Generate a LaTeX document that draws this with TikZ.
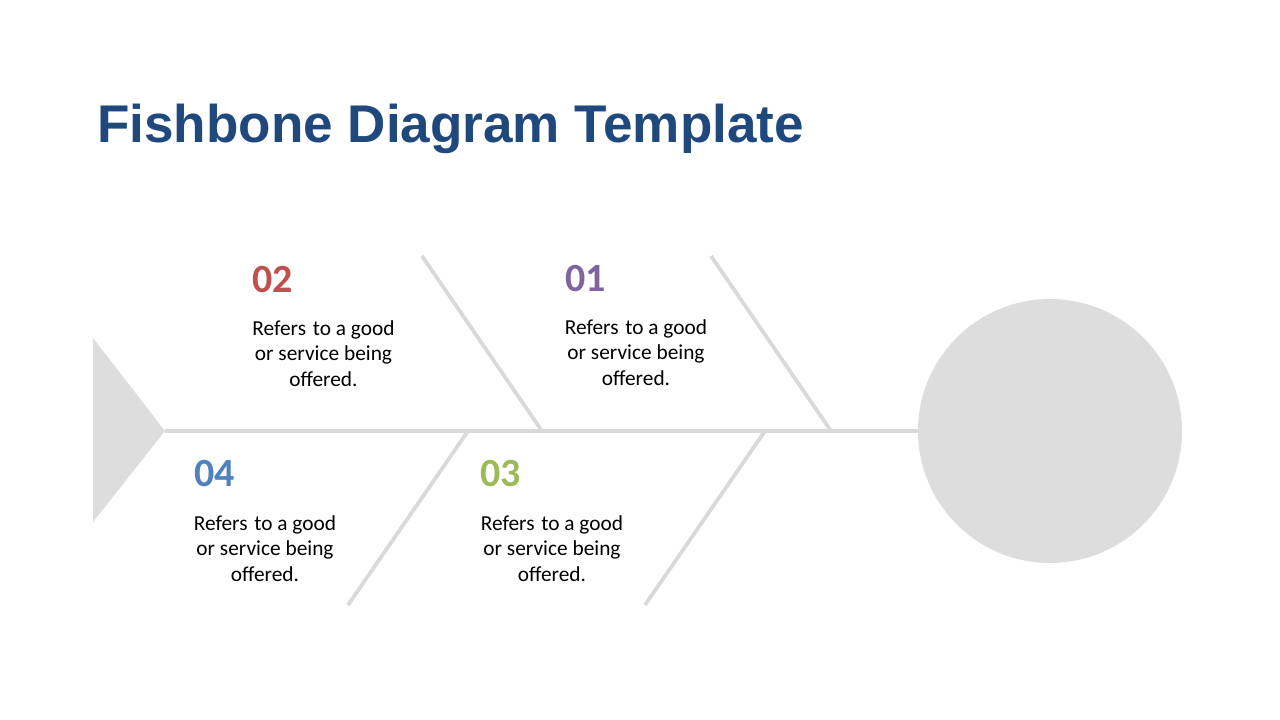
\documentclass[tikz,border=0pt]{standalone}
\usepackage{fontspec}
\setmainfont{Carlito}
\newfontfamily\titlefont{Liberation Sans}
\definecolor{titleblue}{RGB}{31,73,125}
\definecolor{bonegray}{RGB}{217,217,217}
\definecolor{headgray}{RGB}{221,221,221}
\definecolor{numred}{RGB}{192,80,77}
\definecolor{numpurple}{RGB}{128,100,162}
\definecolor{numblue}{RGB}{79,129,189}
\definecolor{numgreen}{RGB}{155,187,89}
\begin{document}
\begin{tikzpicture}[x=0.75pt,y=-0.75pt,
  bone/.style={draw=bonegray,line width=2.8pt},
  numlabel/.style={anchor=base west,inner sep=0pt,font=\fontsize{30}{36}\selectfont\bfseries},
  desc/.style={anchor=north,inner sep=0pt,align=center,font=\fontsize{16}{19.3}\selectfont,text=black}]
\useasboundingbox (0,0) rectangle (1280,720);
\fill[white] (0,0) rectangle (1280,720);
% title
\node[anchor=base west,inner sep=0pt,text=titleblue,font=\titlefont\fontsize{39.8}{48}\selectfont\bfseries] (title) at (97,143) {Fishbone Diagram Template};
% tail and head
\coordinate (tailtop) at (93,338);
\coordinate (tailbot) at (93,522);
\coordinate (tailtip) at (165,431);
\fill[headgray] (tailtop) -- (tailtip) -- (tailbot) -- cycle;
\node[circle,fill=headgray,minimum size=264*0.75pt,inner sep=0pt] (head) at (1050,431) {};
% spine
\draw[bone] (tailtip) -- (head.west);
% bones
\coordinate (u1a) at (422,256); \coordinate (u1b) at (542,431);
\coordinate (u2a) at (711,256); \coordinate (u2b) at (831,431);
\coordinate (l1a) at (468,431); \coordinate (l1b) at (348,605);
\coordinate (l2a) at (765,431); \coordinate (l2b) at (645,605);
\draw[bone] (u1a) -- (u1b);
\draw[bone] (u2a) -- (u2b);
\draw[bone] (l1a) -- (l1b);
\draw[bone] (l2a) -- (l2b);
% labels
\node[numlabel,text=numred] (n02) at (252,292) {02};
\node[desc] (t02) at (323.5,320) {Refers\hspace{1.5pt} to a good\\or service being\\offered.};
\node[numlabel,text=numpurple] (n01) at (565,291) {01};
\node[desc] (t01) at (636,319) {Refers\hspace{1.5pt} to a good\\or service being\\offered.};
\node[numlabel,text=numblue] (n04) at (194,486) {04};
\node[desc] (t04) at (265,515) {Refers\hspace{1.5pt} to a good\\or service being\\offered.};
\node[numlabel,text=numgreen] (n03) at (480,486) {03};
\node[desc] (t03) at (552,515) {Refers\hspace{1.5pt} to a good\\or service being\\offered.};
\end{tikzpicture}
\end{document}
